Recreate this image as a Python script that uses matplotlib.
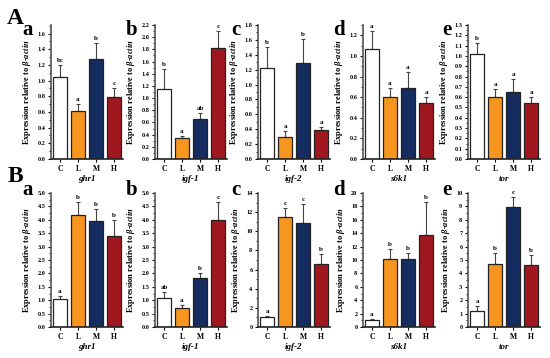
import numpy as np
import matplotlib
matplotlib.use("Agg")
import matplotlib.pyplot as plt
from matplotlib.ticker import AutoMinorLocator

plt.rcParams["font.family"] = "Liberation Serif"
plt.rcParams["font.weight"] = "bold"
plt.rcParams["mathtext.fontset"] = "custom"
plt.rcParams["mathtext.rm"] = "Liberation Serif:bold"
plt.rcParams["mathtext.it"] = "Liberation Serif:italic:bold"
plt.rcParams["mathtext.bf"] = "Liberation Serif:bold"

groups = ["C", "L", "M", "H"]
colors = ["white", "#F7961E", "#142C5F", "#A0171F"]
genes = ["ghr1", "igf-1", "igf-2", "s6k1", "tor"]
sub_letters = ["a", "b", "c", "d", "e"]

# row A
a_means = [
    [1.05, 0.61, 1.28, 0.79],
    [1.15, 0.34, 0.65, 1.83],
    [1.22, 0.30, 1.29, 0.39],
    [1.07, 0.60, 0.69, 0.54],
    [1.02, 0.60, 0.65, 0.54],
]
a_errs = [
    [0.15, 0.09, 0.20, 0.12],
    [0.33, 0.03, 0.10, 0.27],
    [0.28, 0.08, 0.32, 0.04],
    [0.17, 0.09, 0.15, 0.06],
    [0.11, 0.08, 0.13, 0.06],
]
a_sig = [
    ["bc", "a", "b", "c"],
    ["b", "a", "ab", "c"],
    ["b", "a", "b", "a"],
    ["a", "a", "a", "a"],
    ["b", "a", "a", "a"],
]
a_ylim = [1.71, 2.2, 1.8, 1.3, 1.3]
a_step = [0.2, 0.2, 0.2, 0.2, 0.1]
a_tickmax = [1.6, 2.2, 1.8, 1.2, 1.3]

# row B
b_means = [
    [1.03, 4.17, 3.97, 3.40],
    [1.10, 0.70, 1.82, 4.00],
    [1.00, 11.5, 10.9, 6.60],
    [1.10, 10.1, 10.2, 13.8],
    [1.20, 4.70, 8.95, 4.65],
]
b_errs = [
    [0.12, 0.50, 0.43, 0.58],
    [0.20, 0.12, 0.20, 0.65],
    [0.10, 0.90, 2.00, 1.00],
    [0.15, 1.60, 0.80, 4.80],
    [0.40, 0.85, 0.75, 0.75],
]
b_sig = [
    ["a", "b", "b", "b"],
    ["ab", "a", "b", "c"],
    ["a", "c", "c", "b"],
    ["a", "b", "b", "b"],
    ["a", "b", "c", "b"],
]
b_ylim = [5.0, 5.0, 14, 20, 10]
b_step = [0.5, 0.5, 2, 2, 1]
b_tickmax = [5.0, 5.0, 14, 20, 10]

W, H = 550, 358
fig = plt.figure(figsize=(5.5, 3.58), dpi=100)

ax_left = [51, 155, 258, 363, 468]
letter_x = [28, 132, 236, 339, 447]
ax_w = 72
rows = [
    (159, 25, 30, 19, a_means, a_errs, a_sig, a_ylim, a_step, a_tickmax, "A"),
    (327, 193, 190, 177, b_means, b_errs, b_sig, b_ylim, b_step, b_tickmax, "B"),
]

for (base, top, ly, by, means, errs, sig, ylim, step, tmax, big) in rows:
    for i in range(5):
        ax = fig.add_axes([ax_left[i] / W, (H - base) / H, ax_w / W, (base - top) / H])
        x = np.arange(4)
        m = np.array(means[i])
        e = np.array(errs[i])
        ax.bar(x, m, width=0.82, color=colors, edgecolor="#222222", linewidth=0.9, zorder=2)
        ax.errorbar(x, m, yerr=[np.zeros(4), e], fmt="none", ecolor="#444444",
                    elinewidth=0.8, capsize=1.5, capthick=0.8, zorder=1)
        for xi, mi, ei, s in zip(x, m, e, sig[i]):
            ax.text(xi, mi + ei + ylim[i] * 0.015, s, ha="center", va="bottom",
                    fontsize=5, fontweight="bold")
        ax.set_xlim(-0.5, 3.5)
        ax.set_ylim(0, ylim[i])
        ax.set_yticks(np.arange(0, tmax[i] + step[i] / 2, step[i]))
        dec = 1 if step[i] < 1 else 0
        ax.set_yticklabels([f"{v:.{dec}f}" for v in ax.get_yticks()], fontsize=4.5)
        ax.yaxis.set_minor_locator(AutoMinorLocator(2))
        ax.set_xticks(x)
        ax.set_xticklabels(groups, fontsize=5.5)
        ax.spines["top"].set_visible(False)
        ax.spines["right"].set_visible(False)
        ax.spines["left"].set_linewidth(1.2)
        ax.spines["bottom"].set_linewidth(1.2)
        ax.spines["left"].set_color("#555555")
        ax.spines["bottom"].set_color("#222222")
        ax.tick_params(axis="both", which="major", length=2.5, width=0.8, pad=1.5)
        ax.tick_params(axis="y", which="minor", length=1.5, width=0.6)
        ax.set_xlabel(genes[i], fontsize=6.5, fontstyle="italic", fontweight="bold", labelpad=2)
        ax.set_ylabel("Expression relative to $\\beta$-$actin$", fontsize=6,
                      fontweight="bold", labelpad=3)
        fig.text(letter_x[i] / W, 1 - ly / H, sub_letters[i], fontsize=15,
                 fontweight="bold", ha="center", va="center")
    fig.text(15 / W, 1 - by / H, big, fontsize=17, fontweight="bold",
             ha="center", va="center")

fig.savefig("out.png", dpi=100)
